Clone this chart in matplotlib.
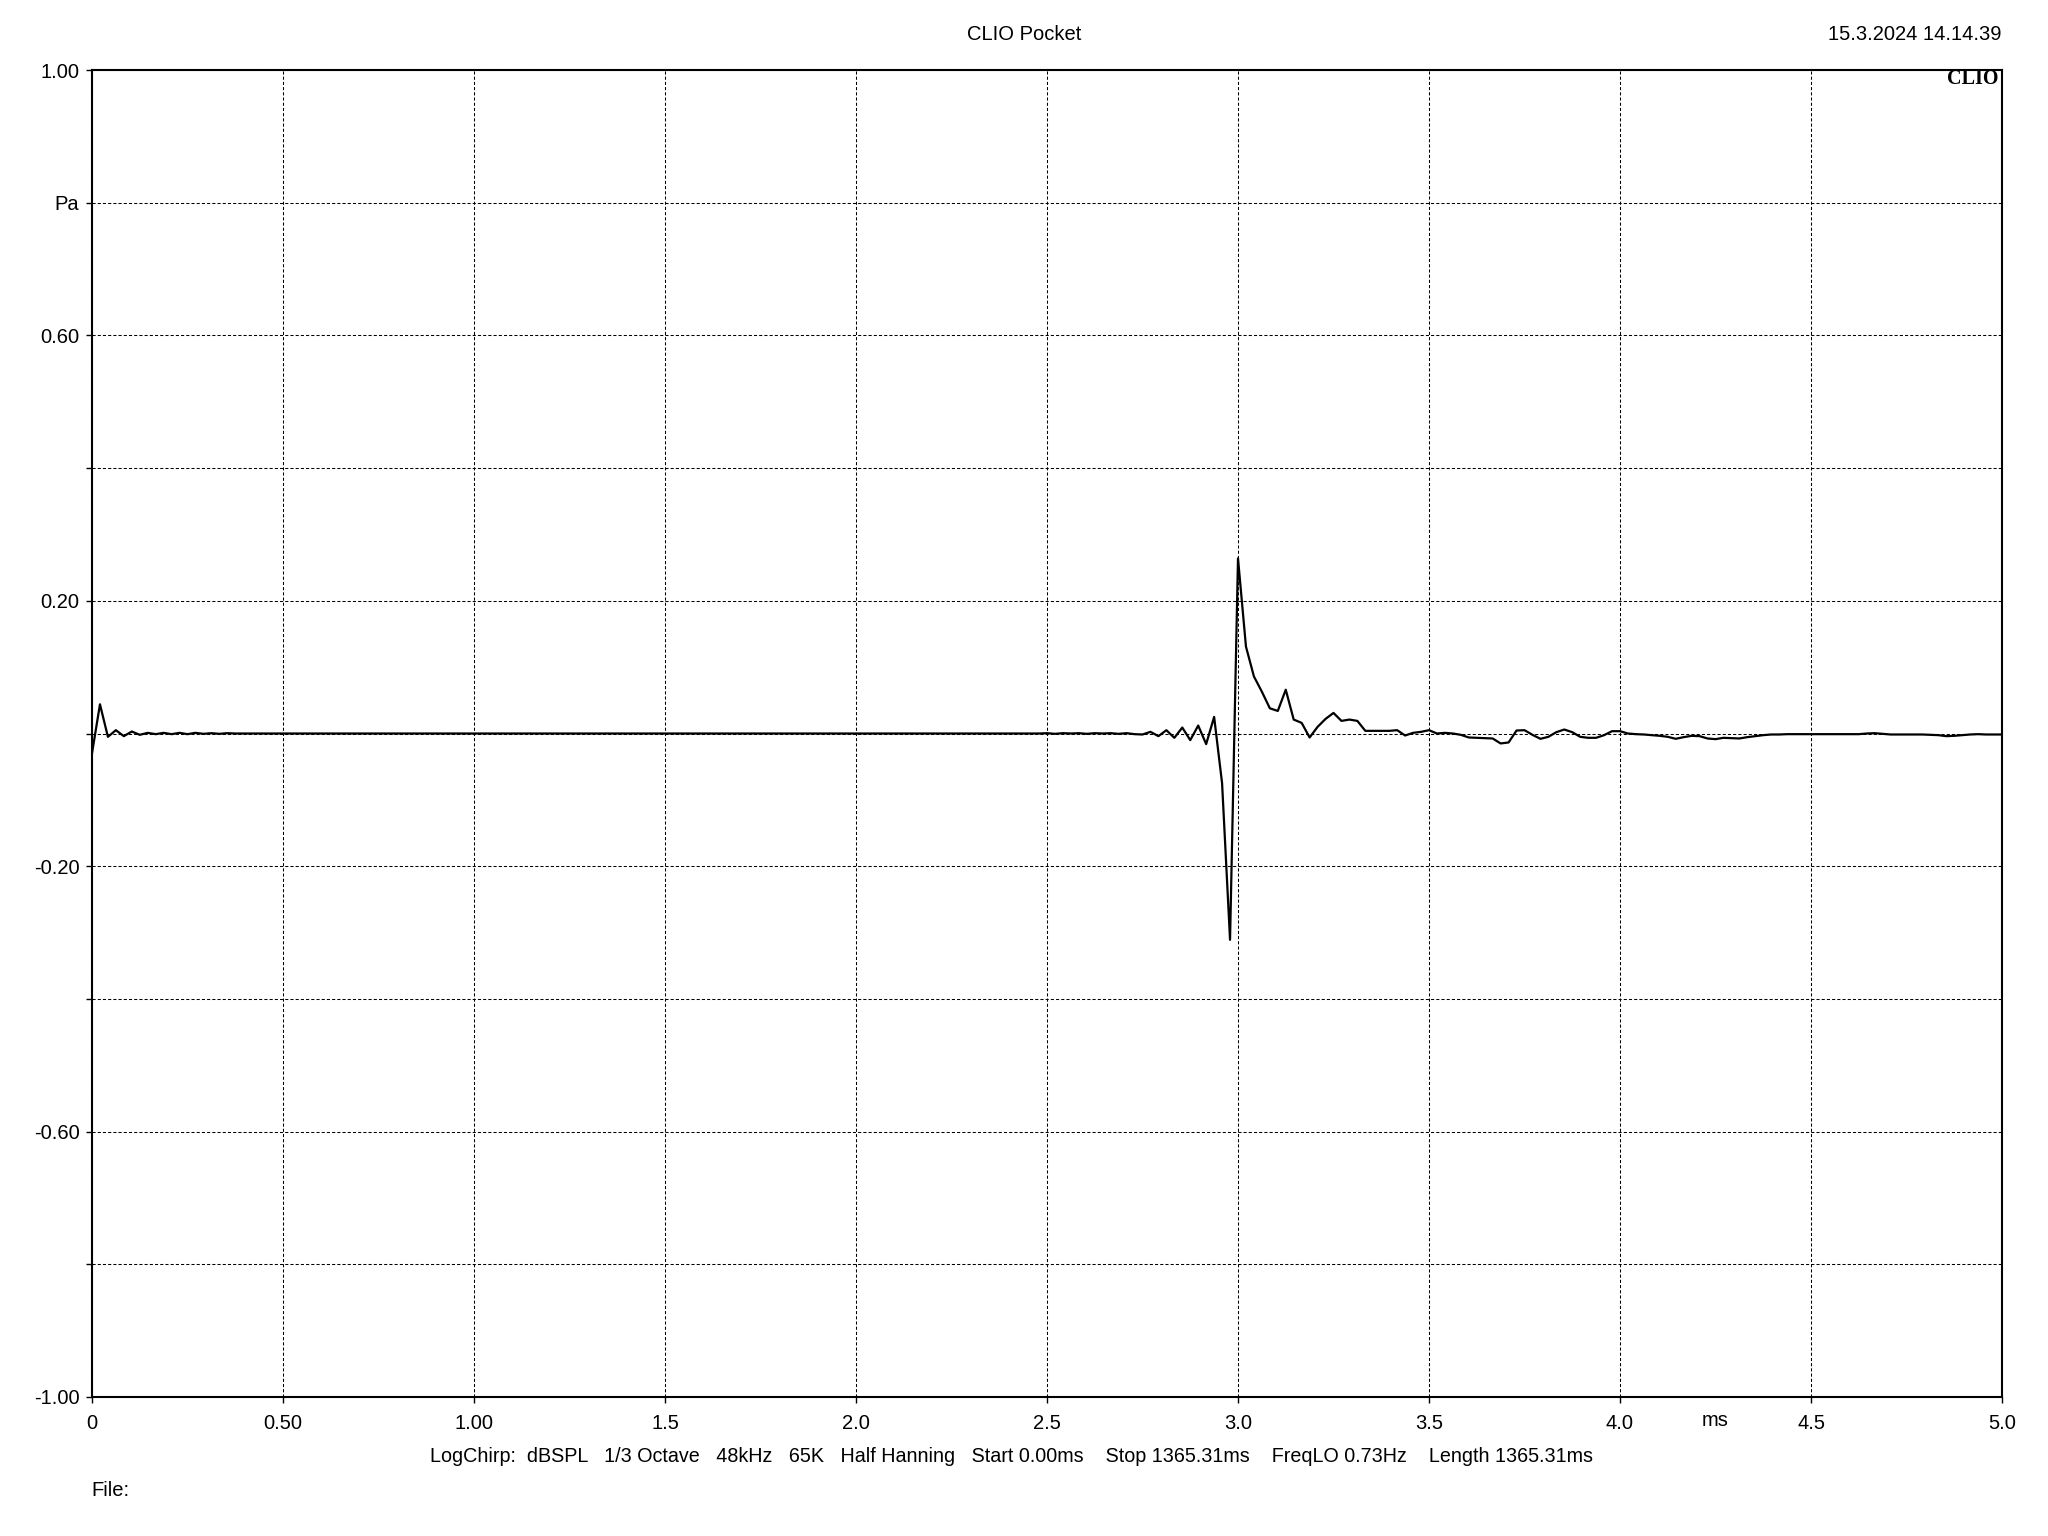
import matplotlib
matplotlib.use("Agg")
import matplotlib.pyplot as plt
import numpy as np

plt.rcParams['font.family'] = ['Liberation Sans', 'DejaVu Sans']

# Impulse response samples (Pa) at 48 kHz, 0 .. 5 ms
SAMPLE_RATE_KHZ = 48.0
pressure_pa = [
    -0.030, 0.044, -0.005, 0.005, -0.004, 0.003, -0.002, 0.001, -0.001, 0.001,
    -0.001, 0.001, -0.001, 0.001, -0.0005, 0.0005, -0.0005, 0.0005, 0.0, 0.0,
    0.0, 0.0, 0.0, 0.0, 0.0, 0.0, 0.0, 0.0, 0.0, 0.0,
    0.0, 0.0, 0.0, 0.0, 0.0, 0.0, 0.0, 0.0, 0.0, 0.0,
    0.0, 0.0, 0.0, 0.0, 0.0, 0.0, 0.0, 0.0, 0.0, 0.0,
    0.0, 0.0, 0.0, 0.0, 0.0, 0.0, 0.0, 0.0, 0.0, 0.0,
    0.0, 0.0, 0.0, 0.0, 0.0, 0.0, 0.0, 0.0, 0.0, 0.0,
    0.0, 0.0, 0.0, 0.0, 0.0, 0.0, 0.0, 0.0, 0.0, 0.0,
    0.0, 0.0, 0.0, 0.0, 0.0, 0.0, 0.0, 0.0, 0.0, 0.0,
    0.0, 0.0, 0.0, 0.0, 0.0, 0.0, 0.0, 0.0, 0.0, 0.0,
    0.0, 0.0, 0.0, 0.0, 0.0, 0.0, 0.0, 0.0, 0.0, 0.0,
    0.0, 0.0, 0.0, 0.0, 0.0, 0.0, 0.0, 0.0, 0.0, 0.0,
    0.0005, -0.0005, 0.0005, 0.0, 0.0005, -0.0005, 0.0005, 0.0, 0.0005, -0.0005,
    0.0005, -0.001, -0.0015, 0.0025, -0.004, 0.005, -0.0065, 0.009, -0.010, 0.012,
    -0.016, 0.025, -0.075, -0.311, 0.264, 0.131, 0.086, 0.063, 0.038, 0.034,
    0.066, 0.021, 0.016, -0.006, 0.010, 0.022, 0.031, 0.019, 0.021, 0.019,
    0.004, 0.004, 0.004, 0.004, 0.005, -0.003, 0.001, 0.0025, 0.005, 0.0,
    0.001, 0.0, -0.002, -0.006, -0.0065, -0.007, -0.0075, -0.015, -0.0135, 0.0045,
    0.005, -0.002, -0.008, -0.005, 0.002, 0.006, 0.002, -0.005, -0.0065, -0.0065,
    -0.0025, 0.0035, 0.0035, 0.0, -0.001, -0.0015, -0.0025, -0.0035, -0.005, -0.008,
    -0.0055, -0.0035, -0.004, -0.0075, -0.0085, -0.0065, -0.007, -0.0075, -0.0055, -0.004,
    -0.0025, -0.0015, -0.0015, -0.001, -0.001, -0.001, -0.001, -0.001, -0.001, -0.001,
    -0.001, -0.001, -0.001, 0.0, 0.0005, -0.0005, -0.0015, -0.0015, -0.0015, -0.0015,
    -0.0015, -0.002, -0.0025, -0.004, -0.0035, -0.0025, -0.0015, -0.001, -0.0015, -0.0015,
    -0.0015,
]
time_ms = np.arange(len(pressure_pa)) / SAMPLE_RATE_KHZ

x_ticks = [0, 0.5, 1.0, 1.5, 2.0, 2.5, 3.0, 3.5, 4.0, 4.5, 5.0]
x_tick_labels = ["0", "0.50", "1.00", "1.5", "2.0", "2.5", "3.0", "3.5", "4.0", "4.5", "5.0"]
y_ticks = [1.0, 0.8, 0.6, 0.4, 0.2, 0.0, -0.2, -0.4, -0.6, -0.8, -1.0]
y_tick_labels = ["1.00", "Pa", "0.60", "", "0.20", "", "-0.20", "", "-0.60", "", "-1.00"]
x_unit_label = "ms"
x_unit_pos = 4.25

title = "CLIO Pocket"
timestamp = "15.3.2024 14.14.39"
info_line = ("LogChirp:  dBSPL   1/3 Octave   48kHz   65K   Half Hanning   Start 0.00ms    "
             "Stop 1365.31ms    FreqLO 0.73Hz    Length 1365.31ms")

W, H = 2048, 1536
fig = plt.figure(figsize=(W / 100, H / 100), dpi=100)
left, right, top, bottom = 92, 2002, 70, 1397
ax = fig.add_axes([left / W, 1 - bottom / H, (right - left) / W, (bottom - top) / H])

ax.plot(time_ms, pressure_pa, color="black", lw=1.6, zorder=3)
ax.set_xlim(0, 5.0)
ax.set_ylim(-1.0, 1.0)
ax.set_xticks(x_ticks)
ax.set_xticklabels(x_tick_labels)
ax.set_yticks(y_ticks)
ax.set_yticklabels(y_tick_labels)
ax.grid(True, color="black", lw=0.75, ls=(0, (3, 2)))
for s in ax.spines.values():
    s.set_linewidth(1.5)
ax.tick_params(axis="both", direction="out", length=4, width=1, labelsize=14.5, colors="black")
ax.tick_params(axis="x", pad=8)
ax.tick_params(axis="y", pad=5)

fs = 14.5
fig.text((left + x_unit_pos / 5.0 * (right - left)) / W, 1 - 1421 / H, x_unit_label,
         ha="center", va="center", fontsize=fs)
fig.text(1024 / W, 1 - 35 / H, title, ha="center", va="center", fontsize=fs)
fig.text(2002 / W, 1 - 35 / H, timestamp, ha="right", va="center", fontsize=fs)
fig.text(1011 / W, 1 - 1456 / H, info_line, ha="center", va="center", fontsize=14.2)
fig.text(91 / W, 1 - 1490 / H, "File:", ha="left", va="center", fontsize=fs)
ax.text(1995 / W * W, 0, "", alpha=0)
fig.text(1998 / W, 1 - 79 / H, "CLIO", ha="right", va="center",
         fontsize=14.5, fontweight="bold", family=["Liberation Serif", "DejaVu Serif"])

fig.savefig("out.png", dpi=100)
